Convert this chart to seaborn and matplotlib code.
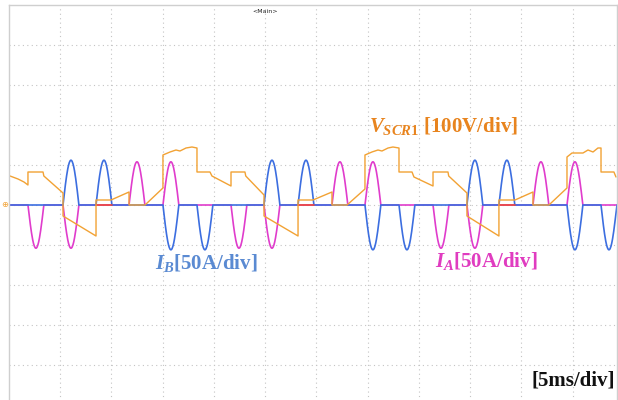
import numpy as np
import pandas as pd
import matplotlib
matplotlib.use("Agg")
import matplotlib.pyplot as plt
import seaborn as sns

# ---------------- data ----------------
# time in ms (5 ms/div), currents in A (50 A/div), voltage in V (100 V/div)
lobe_width_ms = 1.55

ia_start = [1.85, 5.27, 11.71, 15.02, 21.66, 24.88, 31.51, 34.73,
            41.37, 44.68, 51.12, 54.44]
ia_peak = [-54, -54, 54, 54, -54, -54, 54, 54, -54, -54, 54, 54]

ib_start = [5.27, 8.49, 15.02, 18.34, 24.88, 28.20, 34.73, 38.05,
            44.68, 47.80, 54.44, 57.76]
ib_peak = [56, 56, -56, -56, 56, 56, -56, -56, 56, 56, -56, -56]

# short red baseline segments (third trace visible on the zero line)
ic_seg_start = [8.49, 28.20, 47.80]

v_time = [0.10, 0.88, 1.46, 1.85,
          1.85, 3.32, 3.40, 5.27,
          5.27, 8.49,
          8.49, 9.95, 11.71,
          11.71, 13.27, 15.02,
          15.02, 15.71, 16.29, 16.68, 17.27, 17.85, 18.34,
          18.34, 19.61, 19.80, 21.66,
          21.66, 23.02, 23.10, 24.88,
          24.88, 28.20,
          28.20, 29.66, 31.51,
          31.51, 32.98, 34.73,
          34.73, 35.41, 36.00, 36.39, 36.98, 37.46, 38.05,
          38.05, 39.32, 39.51, 41.37,
          41.37, 42.83, 42.90, 44.68,
          44.68, 47.80,
          47.80, 49.37, 51.12,
          51.12, 52.68, 54.44,
          54.44, 54.93, 56.00, 56.49, 56.98, 57.46, 57.76,
          57.76, 59.02, 59.22]
v_volt = [72.5, 65, 57.5, 50,
          82.5, 82.5, 72.5, 30,
          -27.5, -77.5,
          12.5, 12.5, 32.5,
          0, 0, 42.5,
          125, 132.5, 137.5, 135, 142.5, 145, 142.5,
          82.5, 82.5, 72.5, 47.5,
          82.5, 82.5, 72.5, 25,
          -27.5, -77.5,
          12.5, 12.5, 32.5,
          0, 0, 40,
          125, 132.5, 137.5, 135, 142.5, 145, 142.5,
          82.5, 82.5, 70, 47.5,
          82.5, 82.5, 72.5, 30,
          -27.5, -77.5,
          12.5, 12.5, 32.5,
          0, 0, 42.5,
          120, 130, 130, 137.5, 132.5, 142.5, 142.5,
          82.5, 82.5, 70]

label_v = r"$\mathit{V}_{\mathit{SCR1}}$ [100V/div]"
label_ib = r"$\mathit{I}_{\mathit{B}}$[50A/div]"
label_ia = r"$\mathit{I}_{\mathit{A}}$[50A/div]"
label_t = "[5ms/div]"

# scope scales
ms_per_div = 5.0
amp_per_div = 50.0
volt_per_div = 100.0
t_end = 59.32

# ---------------- styling ----------------
sns.set_style("white")
plt.rcParams["font.family"] = ["Liberation Serif", "DejaVu Sans"]
plt.rcParams["mathtext.fontset"] = "custom"
plt.rcParams["mathtext.it"] = "Liberation Serif:italic:bold"
plt.rcParams["mathtext.rm"] = "Liberation Serif:bold"
plt.rcParams["mathtext.bf"] = "Liberation Serif:bold"

c_blue = "#3c6ee0"
c_mag = "#e03ccc"
c_orange = "#f2a234"
c_red = "#e8483c"

fig = plt.figure(figsize=(6.18, 4.0), dpi=100)
ax = fig.add_axes([9 / 618, -5 / 400, 608 / 618, 400 / 400])


def current_trace(starts, peaks, width, end):
    ts, ys = [0.0], [0.0]
    for s, p in sorted(zip(starts, peaks)):
        tt = np.linspace(s, s + width, 41)
        ts.extend(tt)
        ys.extend(p * np.sin(np.pi * (tt - s) / width))
    ts.append(end)
    ys.append(0.0)
    return pd.DataFrame({"t": ts, "y": np.array(ys) / amp_per_div})


ia_df = current_trace(ia_start, ia_peak, lobe_width_ms, t_end)
ib_df = current_trace(ib_start, ib_peak, lobe_width_ms, t_end)
v_df = pd.DataFrame({"t": v_time, "y": np.array(v_volt) / volt_per_div})

sns.lineplot(data=ia_df, x="t", y="y", sort=False, estimator=None,
             color=c_mag, lw=1.2, ax=ax)
sns.lineplot(data=ib_df, x="t", y="y", sort=False, estimator=None,
             color=c_blue, lw=1.2, ax=ax)
for s in ic_seg_start:
    seg = pd.DataFrame({"t": [s, s + lobe_width_ms], "y": [0.0, 0.0]})
    sns.lineplot(data=seg, x="t", y="y", sort=False, estimator=None,
                 color=c_red, lw=1.2, ax=ax)
sns.lineplot(data=v_df, x="t", y="y", sort=False, estimator=None,
             color=c_orange, lw=1.0, ax=ax)

ax.set_xlim(0, t_end)
ax.set_ylim(-5, 5)
ax.set_xticks(np.arange(ms_per_div, t_end, ms_per_div))
ax.set_yticks(np.arange(-4, 5, 1))
ax.grid(True, linestyle=(0, (1, 3)), color="#c4c4c4", lw=0.8)
ax.tick_params(length=0, labelbottom=False, labelleft=False)
ax.set_xlabel("")
ax.set_ylabel("")
for sp in ax.spines.values():
    sp.set_color("#cfcfcf")
    sp.set_linewidth(1.0)

# labels
ax.text(35.1, 1.97, label_v, color="#e8841e", fontsize=15, fontweight="bold",
        va="center", ha="left")
ax.text(14.2, -1.45, label_ib, color="#5a8ad2", fontsize=15, fontweight="bold",
        va="center", ha="left")
ax.text(41.6, -1.4, label_ia, color="#e03cc0", fontsize=15, fontweight="bold",
        va="center", ha="left")
ax.text(59.1, -4.4, label_t, color="#111111", fontsize=15, fontweight="bold",
        va="center", ha="right")
ax.text(25.0, 4.83, "<Main>", color="#222222", fontsize=4.5,
        family="DejaVu Sans", ha="center", va="center")
fig.text(5 / 618, 1 - 205 / 400, "⊕", color=c_orange, fontsize=6,
         family="DejaVu Sans", ha="center", va="center")

fig.savefig("out.png", dpi=100)
